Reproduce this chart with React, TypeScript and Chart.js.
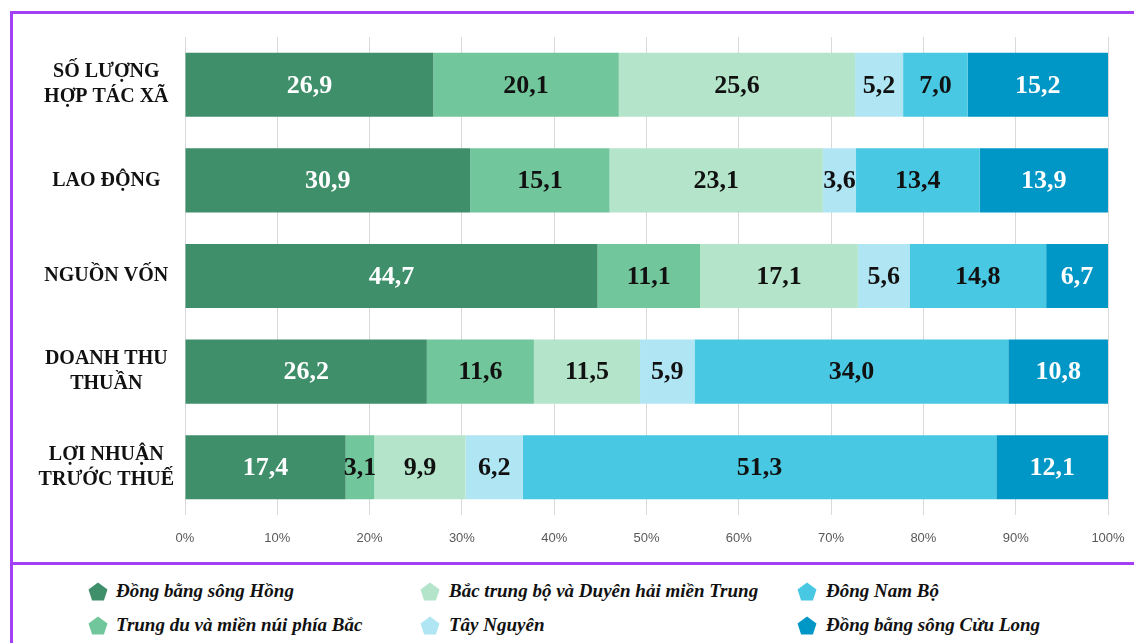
import React, { useEffect, useRef } from "react";
import { Chart, registerables } from "chart.js";

Chart.register(...registerables);

const categories: string[][] = [
  ["SỐ LƯỢNG", "HỢP TÁC XÃ"],
  ["LAO ĐỘNG"],
  ["NGUỒN VỐN"],
  ["DOANH THU", "THUẦN"],
  ["LỢI NHUẬN", "TRƯỚC THUẾ"],
];

const seriesNames = [
  "Đồng bằng sông Hồng",
  "Trung du và miền núi phía Bắc",
  "Bắc trung bộ và Duyên hải miền Trung",
  "Tây Nguyên",
  "Đông Nam Bộ",
  "Đồng bằng sông Cửu Long",
];

const dongBangSongHong = [26.9, 30.9, 44.7, 26.2, 17.4];
const trungDuMienNui = [20.1, 15.1, 11.1, 11.6, 3.1];
const bacTrungBo = [25.6, 23.1, 17.1, 11.5, 9.9];
const tayNguyen = [5.2, 3.6, 5.6, 5.9, 6.2];
const dongNamBo = [7.0, 13.4, 14.8, 34.0, 51.3];
const cuuLong = [15.2, 13.9, 6.7, 10.8, 12.1];

const seriesValues = [dongBangSongHong, trungDuMienNui, bacTrungBo, tayNguyen, dongNamBo, cuuLong];

const colors = ["#3f8f6b", "#72c69c", "#b4e4c9", "#b0e6f3", "#48c8e2", "#0097c7"];
const labelColors = ["#ffffff", "#111111", "#111111", "#111111", "#111111", "#ffffff"];

const xTicks = [0, 10, 20, 30, 40, 50, 60, 70, 80, 90, 100];

const PURPLE = "#a33ff5";

const dataLabelPlugin = {
  id: "dataLabels",
  afterDatasetsDraw(chart: any) {
    const ctx = chart.ctx;
    ctx.save();
    ctx.font = "bold 26px 'Liberation Serif', 'Times New Roman', serif";
    ctx.textAlign = "center";
    ctx.textBaseline = "middle";
    chart.data.datasets.forEach((ds: any, di: number) => {
      const meta = chart.getDatasetMeta(di);
      meta.data.forEach((el: any, i: number) => {
        const v = ds.data[i];
        const cx = (el.x + el.base) / 2;
        ctx.fillStyle = labelColors[di];
        ctx.fillText(v.toFixed(1).replace(".", ","), cx, el.y + 1);
      });
    });
    ctx.restore();
  },
};

function Pentagon({ color }: { color: string }) {
  return (
    <svg width="20" height="20" viewBox="0 0 20 20" style={{ display: "block" }}>
      <polygon points="10,0.5 19.5,7.4 15.9,18.6 4.1,18.6 0.5,7.4" fill={color} />
    </svg>
  );
}

export default function App() {
  const canvasRef = useRef<HTMLCanvasElement | null>(null);

  useEffect(() => {
    if (!canvasRef.current) return;
    const chart = new Chart(canvasRef.current, {
      type: "bar",
      data: {
        labels: categories,
        datasets: seriesNames.map((name, i) => ({
          label: name,
          data: seriesValues[i],
          backgroundColor: colors[i],
          borderWidth: 0,
          barPercentage: 0.67,
          categoryPercentage: 1,
        })),
      },
      options: {
        indexAxis: "y",
        animation: false,
        responsive: false,
        maintainAspectRatio: false,
        layout: { padding: { top: 23, right: 26, left: 0, bottom: 0 } },
        plugins: {
          legend: { display: false },
          tooltip: { enabled: false },
        },
        scales: {
          x: {
            stacked: true,
            min: 0,
            max: 100,
            afterBuildTicks: (scale: any) => {
              scale.ticks = xTicks.map((v) => ({ value: v }));
            },
            afterFit: (scale: any) => {
              scale.height = 47;
              scale.paddingRight = 0;
              scale.paddingLeft = 0;
            },
            grid: { color: "#d9d9d9", drawTicks: false, lineWidth: 1 },
            border: { display: false },
            ticks: {
              padding: 16,
              color: "#595959",
              font: { family: "'Liberation Sans', Arial, sans-serif", size: 13 },
              callback: (v: any) => v + "%",
            },
          },
          y: {
            stacked: true,
            afterFit: (scale: any) => {
              scale.width = 172;
              scale.paddingTop = 0;
              scale.paddingBottom = 0;
            },
            grid: { display: false },
            border: { display: false },
            ticks: {
              crossAlign: "center",
              color: "#111111",
              font: {
                family: "'Liberation Serif', 'Times New Roman', serif",
                size: 20,
                weight: "bold",
                lineHeight: 1.25,
              },
            },
          },
        },
      },
      plugins: [dataLabelPlugin],
    } as any);
    return () => chart.destroy();
  }, []);

  const legendPos = [
    { x: 88, y: 582, t: 116 },
    { x: 88, y: 616, t: 116 },
    { x: 420, y: 582, t: 449 },
    { x: 420, y: 616, t: 449 },
    { x: 797, y: 582, t: 826 },
    { x: 797, y: 616, t: 826 },
  ];
  const legendOrder = [0, 1, 2, 3, 4, 5];

  return (
    <div
      style={{
        position: "fixed",
        left: 0,
        top: 0,
        width: 1134,
        height: 643,
        background: "#ffffff",
        overflow: "hidden",
      }}
    >
      <div style={{ position: "absolute", left: 10, top: 11, width: 3, height: 632, background: PURPLE }} />
      <div style={{ position: "absolute", left: 10, top: 11, width: 1124, height: 3, background: PURPLE }} />
      <div style={{ position: "absolute", left: 10, top: 562, width: 1124, height: 3, background: PURPLE }} />
      <canvas
        ref={canvasRef}
        width={1121}
        height={548}
        style={{ position: "absolute", left: 13, top: 14, width: 1121, height: 548 }}
      />
      {legendOrder.map((si, k) => {
        const p = legendPos[k];
        return (
          <div key={si}>
            <div style={{ position: "absolute", left: p.x, top: p.y }}>
              <Pentagon color={colors[si]} />
            </div>
            <div
              style={{
                position: "absolute",
                left: p.t,
                top: p.y - 3,
                fontFamily: "'Liberation Serif', 'Times New Roman', serif",
                fontStyle: "italic",
                fontWeight: "bold",
                fontSize: 19,
                lineHeight: "24px",
                color: "#111111",
                whiteSpace: "nowrap",
              }}
            >
              {seriesNames[si]}
            </div>
          </div>
        );
      })}
    </div>
  );
}
